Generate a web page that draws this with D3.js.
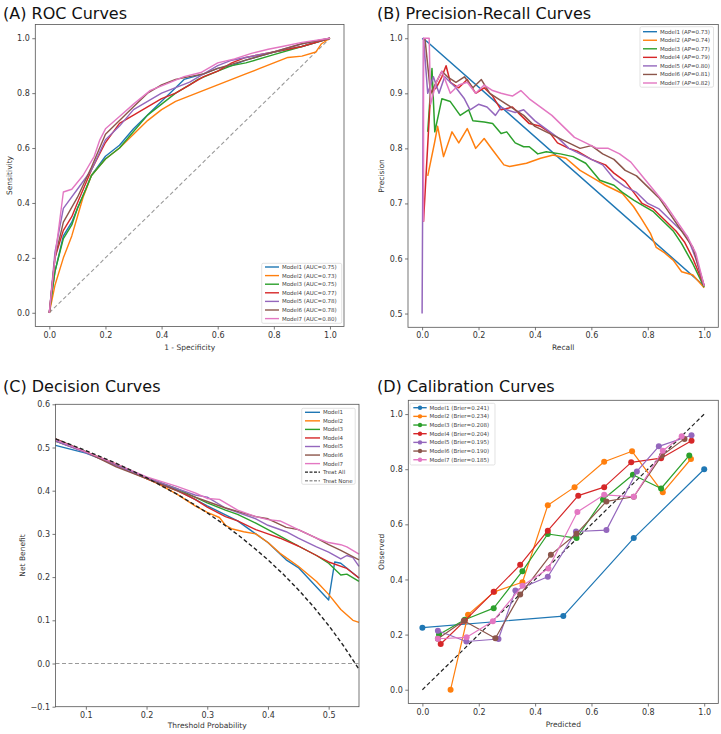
<!DOCTYPE html>
<html>
<head>
<meta charset="utf-8">
<script src="https://cdn.jsdelivr.net/npm/d3@7"></script>
<style>
body { margin: 0; background: #fff; }
text { font-family: "DejaVu Sans", sans-serif; }
</style>
</head>
<body>
<script>
const models = ["Model1", "Model2", "Model3", "Model4", "Model5", "Model6", "Model7"];
const colors = ["#1f77b4", "#ff7f0e", "#2ca02c", "#d62728", "#9467bd", "#8c564b", "#e377c2"];
const aucValues = ["0.75", "0.73", "0.75", "0.77", "0.78", "0.78", "0.80"];
const apValues = ["0.73", "0.74", "0.77", "0.79", "0.80", "0.81", "0.82"];
const brierValues = ["0.241", "0.234", "0.208", "0.204", "0.195", "0.190", "0.185"];

// ROC: [fpr, tpr]
const roc1 = [[0,0],[0.01,0.08],[0.02,0.15],[0.05,0.28],[0.08,0.33],[0.1,0.38],[0.13,0.45],[0.15,0.5],[0.2,0.57],[0.25,0.61],[0.3,0.67],[0.35,0.72],[0.4,0.77],[0.45,0.82],[0.48,0.85],[0.55,0.87],[0.6,0.89],[0.65,0.9],[0.7,0.92],[0.8,0.95],[0.9,0.97],[1,1]];
const roc2 = [[0,0],[0.02,0.1],[0.05,0.2],[0.08,0.28],[0.1,0.35],[0.12,0.42],[0.15,0.5],[0.2,0.56],[0.25,0.6],[0.3,0.65],[0.35,0.7],[0.4,0.74],[0.45,0.77],[0.5,0.79],[0.55,0.81],[0.6,0.83],[0.65,0.85],[0.7,0.87],[0.75,0.89],[0.8,0.91],[0.85,0.93],[0.9,0.935],[0.95,0.95],[0.97,0.98],[1,1]];
const roc3 = [[0,0],[0.02,0.15],[0.05,0.27],[0.08,0.32],[0.1,0.38],[0.13,0.45],[0.15,0.5],[0.2,0.56],[0.25,0.6],[0.3,0.66],[0.35,0.72],[0.4,0.76],[0.45,0.8],[0.5,0.83],[0.53,0.85],[0.6,0.88],[0.65,0.9],[0.7,0.91],[0.8,0.94],[0.9,0.97],[1,1]];
const roc4 = [[0,0],[0.02,0.2],[0.05,0.3],[0.08,0.35],[0.1,0.4],[0.15,0.52],[0.2,0.62],[0.25,0.69],[0.3,0.72],[0.35,0.75],[0.4,0.78],[0.45,0.8],[0.5,0.83],[0.55,0.86],[0.6,0.88],[0.65,0.91],[0.7,0.93],[0.8,0.95],[0.9,0.97],[1,1]];
const roc5 = [[0,0],[0.02,0.22],[0.05,0.38],[0.1,0.45],[0.15,0.52],[0.2,0.63],[0.25,0.68],[0.3,0.74],[0.35,0.77],[0.4,0.8],[0.45,0.82],[0.5,0.84],[0.55,0.87],[0.6,0.9],[0.65,0.92],[0.7,0.93],[0.8,0.95],[0.9,0.98],[1,1]];
const roc6 = [[0,0],[0.02,0.2],[0.05,0.33],[0.1,0.42],[0.15,0.53],[0.2,0.65],[0.25,0.7],[0.3,0.75],[0.35,0.8],[0.4,0.83],[0.45,0.85],[0.5,0.86],[0.55,0.87],[0.6,0.89],[0.7,0.92],[0.8,0.95],[0.9,0.98],[1,1]];
const roc7 = [[0,0],[0.02,0.2],[0.05,0.44],[0.08,0.45],[0.12,0.5],[0.16,0.57],[0.18,0.63],[0.2,0.67],[0.25,0.715],[0.3,0.76],[0.36,0.81],[0.42,0.835],[0.48,0.86],[0.54,0.875],[0.6,0.91],[0.66,0.925],[0.72,0.945],[0.78,0.96],[0.83,0.97],[0.9,0.985],[1,1]];
const rocCurves = [roc1, roc2, roc3, roc4, roc5, roc6, roc7];
const rocDiagonal = [[0,0],[1,1]];

// PR: [recall, precision]
const pr1 = [[0,1],[0.015,0.995],[1,0.55]];
const pr2 = [[0.02,0.75],[0.044,0.81],[0.055,0.84],[0.076,0.785],[0.106,0.83],[0.13,0.81],[0.16,0.836],[0.19,0.8],[0.22,0.818],[0.25,0.797],[0.29,0.77],[0.31,0.767],[0.37,0.773],[0.42,0.782],[0.465,0.788],[0.51,0.782],[0.56,0.76],[0.61,0.745],[0.65,0.733],[0.71,0.718],[0.75,0.694],[0.78,0.67],[0.81,0.645],[0.83,0.62],[0.86,0.61],[0.89,0.597],[0.92,0.576],[0.96,0.57],[1,0.547]];
const pr3 = [[0.02,0.83],[0.035,0.945],[0.045,0.83],[0.07,0.89],[0.1,0.885],[0.135,0.86],[0.165,0.87],[0.18,0.85],[0.22,0.848],[0.25,0.845],[0.28,0.827],[0.3,0.83],[0.33,0.81],[0.36,0.803],[0.38,0.803],[0.41,0.79],[0.44,0.794],[0.49,0.79],[0.535,0.785],[0.58,0.773],[0.63,0.742],[0.68,0.733],[0.71,0.72],[0.75,0.706],[0.78,0.697],[0.82,0.685],[0.85,0.67],[0.89,0.65],[0.92,0.627],[0.96,0.59],[1,0.548]];
const pr4 = [[0.005,0.667],[0.03,0.9],[0.05,0.91],[0.07,0.93],[0.085,0.95],[0.1,0.92],[0.13,0.91],[0.16,0.925],[0.19,0.9],[0.22,0.91],[0.25,0.895],[0.28,0.87],[0.32,0.875],[0.35,0.86],[0.38,0.845],[0.42,0.84],[0.45,0.83],[0.48,0.81],[0.52,0.8],[0.55,0.795],[0.6,0.78],[0.65,0.77],[0.68,0.755],[0.72,0.74],[0.75,0.72],[0.78,0.7],[0.82,0.69],[0.86,0.67],[0.9,0.65],[0.93,0.63],[0.96,0.6],[1,0.55]];
const pr5 = [[0,0.5],[0.005,1],[0.02,0.9],[0.04,0.93],[0.06,0.9],[0.08,0.93],[0.1,0.92],[0.12,0.91],[0.15,0.89],[0.17,0.87],[0.2,0.88],[0.23,0.875],[0.26,0.86],[0.28,0.875],[0.3,0.87],[0.33,0.865],[0.36,0.87],[0.4,0.85],[0.44,0.835],[0.48,0.82],[0.52,0.8],[0.56,0.79],[0.6,0.78],[0.64,0.77],[0.68,0.745],[0.72,0.73],[0.76,0.72],[0.8,0.7],[0.84,0.69],[0.88,0.67],[0.91,0.655],[0.94,0.64],[0.97,0.6],[1,0.55]];
const pr6 = [[0.01,1],[0.03,0.9],[0.05,0.92],[0.07,0.94],[0.09,0.93],[0.12,0.92],[0.15,0.93],[0.18,0.91],[0.21,0.925],[0.24,0.9],[0.27,0.89],[0.3,0.88],[0.33,0.87],[0.36,0.86],[0.4,0.84],[0.44,0.83],[0.48,0.82],[0.52,0.81],[0.56,0.8],[0.6,0.805],[0.64,0.79],[0.68,0.78],[0.72,0.76],[0.76,0.75],[0.8,0.73],[0.84,0.71],[0.88,0.68],[0.92,0.65],[0.96,0.62],[1,0.55]];
const pr7 = [[0.005,0.667],[0.005,1],[0.025,1],[0.03,0.88],[0.05,0.92],[0.07,0.94],[0.1,0.9],[0.13,0.915],[0.16,0.92],[0.19,0.9],[0.22,0.915],[0.25,0.905],[0.28,0.9],[0.32,0.895],[0.35,0.905],[0.38,0.89],[0.42,0.875],[0.46,0.86],[0.5,0.84],[0.54,0.82],[0.58,0.81],[0.62,0.8],[0.66,0.8],[0.7,0.79],[0.74,0.775],[0.78,0.75],[0.82,0.725],[0.86,0.7],[0.9,0.67],[0.94,0.64],[0.97,0.61],[1,0.55]];
const prCurves = [pr1, pr2, pr3, pr4, pr5, pr6, pr7];

// Decision curves: [threshold, net benefit]
const dca1 = [[0.05,0.505],[0.1,0.487],[0.15,0.46],[0.2,0.43],[0.25,0.402],[0.3,0.365],[0.35,0.33],[0.37,0.31],[0.4,0.28],[0.43,0.24],[0.45,0.222],[0.5,0.147],[0.51,0.235],[0.52,0.232],[0.55,0.198]];
const dca2 = [[0.05,0.515],[0.1,0.49],[0.15,0.462],[0.2,0.428],[0.22,0.415],[0.25,0.392],[0.28,0.365],[0.3,0.35],[0.32,0.338],[0.33,0.32],[0.34,0.312],[0.36,0.305],[0.38,0.3],[0.4,0.28],[0.42,0.255],[0.45,0.225],[0.48,0.19],[0.5,0.16],[0.52,0.125],[0.54,0.1],[0.55,0.095]];
const dca3 = [[0.05,0.515],[0.1,0.49],[0.15,0.46],[0.2,0.43],[0.25,0.405],[0.3,0.372],[0.33,0.355],[0.35,0.345],[0.38,0.325],[0.4,0.31],[0.42,0.295],[0.45,0.272],[0.48,0.25],[0.5,0.232],[0.52,0.205],[0.53,0.207],[0.55,0.19]];
const dca4 = [[0.05,0.52],[0.1,0.49],[0.15,0.458],[0.2,0.428],[0.25,0.4],[0.28,0.38],[0.3,0.362],[0.33,0.34],[0.35,0.33],[0.38,0.31],[0.4,0.3],[0.42,0.29],[0.45,0.272],[0.48,0.25],[0.5,0.235],[0.53,0.22],[0.55,0.198]];
const dca5 = [[0.05,0.515],[0.1,0.488],[0.15,0.458],[0.2,0.43],[0.25,0.405],[0.28,0.39],[0.3,0.385],[0.33,0.36],[0.35,0.35],[0.38,0.335],[0.4,0.32],[0.43,0.305],[0.45,0.29],[0.48,0.27],[0.5,0.258],[0.52,0.242],[0.53,0.25],[0.54,0.245],[0.55,0.225]];
const dca6 = [[0.05,0.52],[0.1,0.49],[0.15,0.455],[0.2,0.428],[0.25,0.4],[0.28,0.385],[0.3,0.375],[0.33,0.36],[0.35,0.352],[0.38,0.34],[0.4,0.335],[0.43,0.315],[0.45,0.31],[0.48,0.29],[0.5,0.275],[0.52,0.262],[0.55,0.24]];
const dca7 = [[0.05,0.518],[0.1,0.49],[0.15,0.462],[0.2,0.432],[0.25,0.41],[0.28,0.395],[0.3,0.382],[0.32,0.38],[0.35,0.355],[0.38,0.34],[0.4,0.333],[0.42,0.33],[0.45,0.31],[0.48,0.29],[0.5,0.28],[0.52,0.275],[0.53,0.27],[0.55,0.253]];
const dcaCurves = [dca1, dca2, dca3, dca4, dca5, dca6, dca7];
const treatAll = [[0.05,0.52],[0.1,0.493],[0.15,0.4635],[0.2,0.43],[0.25,0.392],[0.275,0.371],[0.3,0.3486],[0.325,0.3244],[0.35,0.2985],[0.375,0.27],[0.4,0.24],[0.425,0.207],[0.45,0.1709],[0.475,0.1314],[0.5,0.088],[0.525,0.04],[0.55,-0.0133]];
const treatNone = [[0.05,0],[0.55,0]];

// Calibration: [predicted, observed]
const cal1 = [[0,0.225],[0.5,0.267],[0.75,0.55],[1,0.8]];
const cal2 = [[0.1,0],[0.162,0.272],[0.255,0.355],[0.355,0.39],[0.445,0.669],[0.54,0.735],[0.645,0.827],[0.744,0.865],[0.853,0.716],[0.953,0.837]];
const cal3 = [[0.059,0.2],[0.15,0.254],[0.253,0.296],[0.355,0.43],[0.445,0.565],[0.547,0.55],[0.641,0.69],[0.747,0.78],[0.847,0.73],[0.947,0.85]];
const cal4 = [[0.065,0.166],[0.15,0.25],[0.253,0.355],[0.347,0.453],[0.445,0.577],[0.553,0.704],[0.645,0.735],[0.741,0.825],[0.847,0.84],[0.955,0.903]];
const cal5 = [[0.055,0.214],[0.156,0.175],[0.27,0.184],[0.33,0.36],[0.445,0.41],[0.545,0.574],[0.653,0.579],[0.761,0.792],[0.839,0.883],[0.955,0.923]];
const cal6 = [[0.055,0.185],[0.147,0.25],[0.259,0.187],[0.347,0.345],[0.456,0.49],[0.547,0.566],[0.653,0.683],[0.75,0.7],[0.85,0.85],[0.93,0.91]];
const cal7 = [[0.055,0.185],[0.157,0.19],[0.25,0.248],[0.355,0.377],[0.447,0.44],[0.55,0.645],[0.645,0.707],[0.75,0.7],[0.853,0.867],[0.92,0.92]];
const calCurves = [cal1, cal2, cal3, cal4, cal5, cal6, cal7];
const calDiagonal = [[0,0],[1,1]];

const ticks01 = [0, 0.2, 0.4, 0.6, 0.8, 1.0];
const ticksPrecision = [0.5, 0.6, 0.7, 0.8, 0.9, 1.0];
const ticksThreshold = [0.1, 0.2, 0.3, 0.4, 0.5];
const ticksNetBenefit = [-0.1, 0, 0.1, 0.2, 0.3, 0.4, 0.5, 0.6];

const W = 721, H = 734;
const svg = d3.select("body").append("svg").attr("width", W).attr("height", H);

function panel(o) {
	const x = d3.scaleLinear().domain(o.xd).range([o.left, o.right]);
	const y = d3.scaleLinear().domain(o.yd).range([o.bottom, o.top]);
	const g = svg.append("g");
	const fmt = d3.format(".1f");

	const gx = g.append("g")
		.attr("transform", `translate(0,${o.bottom})`)
		.call(d3.axisBottom(x).tickValues(o.xt).tickFormat(fmt).tickSize(3).tickPadding(2.5).tickSizeOuter(0));
	const gy = g.append("g")
		.attr("transform", `translate(${o.left},0)`)
		.call(d3.axisLeft(y).tickValues(o.yt).tickFormat(fmt).tickSize(3).tickPadding(2.5).tickSizeOuter(0));
	[gx, gy].forEach(a => {
		a.select(".domain").remove();
		a.selectAll("line").attr("stroke", "#555").attr("stroke-width", 0.8);
		a.selectAll("text").attr("fill", "#333").style("font-size", "8px").style("font-family", "DejaVu Sans");
	});

	// title + axis labels
	g.append("text").attr("x", o.titleX).attr("y", o.titleY)
		.style("font-size", "16px").attr("fill", "#111").text(o.title);
	g.append("text").attr("x", (o.left + o.right) / 2).attr("y", o.xlabY)
		.attr("text-anchor", "middle").style("font-size", "7.5px").attr("fill", "#333").text(o.xlab);
	g.append("text").attr("transform", `translate(${o.ylabX},${(o.top + o.bottom) / 2}) rotate(-90)`)
		.attr("text-anchor", "middle").style("font-size", "7.5px").attr("fill", "#333").text(o.ylab);

	const plot = g.append("g");
	g.append("rect").attr("x", o.left).attr("y", o.top)
		.attr("width", o.right - o.left).attr("height", o.bottom - o.top)
		.attr("fill", "none").attr("stroke", "#555").attr("stroke-width", 0.8);
	return { g, plot, x, y };
}

function drawLine(p, data, color, width, dash) {
	const line = d3.line().x(d => p.x(d[0])).y(d => p.y(d[1]));
	p.plot.append("path").datum(data)
		.attr("d", line)
		.attr("fill", "none")
		.attr("stroke", color)
		.attr("stroke-width", width)
		.attr("stroke-linejoin", "round")
		.attr("stroke-dasharray", dash || null);
}

function legend(p, o, items) {
	const lg = p.g.append("g");
	lg.append("rect").attr("x", o.x).attr("y", o.y).attr("width", o.w).attr("height", o.h)
		.attr("rx", 1.5).attr("fill", "#fff").attr("fill-opacity", 0.85)
		.attr("stroke", "#d5d5d5").attr("stroke-width", 0.7);
	items.forEach((it, i) => {
		const yy = o.row0 + i * o.step;
		lg.append("line").attr("x1", o.lx0).attr("x2", o.lx1).attr("y1", yy).attr("y2", yy)
			.attr("stroke", it.color).attr("stroke-width", 1.4)
			.attr("stroke-dasharray", it.dash || null);
		if (it.marker) {
			lg.append("circle").attr("cx", (o.lx0 + o.lx1) / 2).attr("cy", yy).attr("r", 2.2).attr("fill", it.color);
		}
		lg.append("text").attr("x", o.tx).attr("y", yy).attr("dy", "0.35em")
			.style("font-size", "5.5px").attr("fill", "#444").text(it.label);
	});
}

// (A) ROC
const pA = panel({
	left: 35.3, right: 344, top: 24.5, bottom: 326.5,
	xd: [-0.05, 1.05], yd: [-0.05, 1.05], xt: ticks01, yt: ticks01,
	title: "(A) ROC Curves", titleX: 3, titleY: 18.5,
	xlab: "1 - Specificity", xlabY: 350, ylab: "Sensitivity", ylabX: 12
});
drawLine(pA, rocDiagonal, "#999", 1.1, "4,2.5");
rocCurves.forEach((c, i) => drawLine(pA, c, colors[i], 1.4));
legend(pA, { x: 261.7, y: 263.3, w: 80, h: 60, row0: 267, step: 8.6, lx0: 265, lx1: 279, tx: 282 },
	models.map((m, i) => ({ color: colors[i], label: `${m} (AUC=${aucValues[i]})` })));

// (B) PR
const pB = panel({
	left: 408, right: 718.3, top: 24.5, bottom: 327.3,
	xd: [-0.05, 1.05], yd: [0.475, 1.025], xt: ticks01, yt: ticksPrecision,
	title: "(B) Precision-Recall Curves", titleX: 377, titleY: 18.5,
	xlab: "Recall", xlabY: 350, ylab: "Precision", ylabX: 384
});
prCurves.forEach((c, i) => drawLine(pB, c, colors[i], 1.5));
legend(pB, { x: 640, y: 26.7, w: 73.5, h: 60.5, row0: 31.7, step: 8.55, lx0: 643, lx1: 657, tx: 660 },
	models.map((m, i) => ({ color: colors[i], label: `${m} (AP=${apValues[i]})` })));

// (C) Decision curves
const pC = panel({
	left: 55.5, right: 359, top: 404.3, bottom: 706.7,
	xd: [0.05, 0.55], yd: [-0.1, 0.6], xt: ticksThreshold, yt: ticksNetBenefit,
	title: "(C) Decision Curves", titleX: 3, titleY: 391.5,
	xlab: "Threshold Probability", xlabY: 728, ylab: "Net Benefit", ylabX: 25
});
drawLine(pC, treatNone, "#999", 1.2, "4,2.5");
dcaCurves.forEach((c, i) => drawLine(pC, c, colors[i], 1.4));
drawLine(pC, treatAll, "#222", 1.4, "4,2.5");
legend(pC, { x: 301.7, y: 408.3, w: 53.5, h: 76, row0: 412.3, step: 8.55, lx0: 305, lx1: 320, tx: 323 },
	models.map((m, i) => ({ color: colors[i], label: m }))
		.concat([{ color: "#222", label: "Treat All", dash: "3,1.5" }, { color: "#999", label: "Treat None", dash: "3,1.5" }]));

// (D) Calibration
const pD = panel({
	left: 408.3, right: 718.3, top: 400.3, bottom: 703.5,
	xd: [-0.05, 1.05], yd: [-0.05, 1.05], xt: ticks01, yt: ticks01,
	title: "(D) Calibration Curves", titleX: 377, titleY: 392,
	xlab: "Predicted", xlabY: 727, ylab: "Observed", ylabX: 384
});
drawLine(pD, calDiagonal, "#222", 1.2, "4,2.5");
calCurves.forEach((c, i) => {
	drawLine(pD, c, colors[i], 1.2);
	pD.plot.selectAll(null).data(c).enter().append("circle")
		.attr("cx", d => pD.x(d[0])).attr("cy", d => pD.y(d[1]))
		.attr("r", 3).attr("fill", colors[i]);
});
legend(pD, { x: 410, y: 403.3, w: 85, h: 61.7, row0: 407.7, step: 8.67, lx0: 413.3, lx1: 426.7, tx: 429.5 },
	models.map((m, i) => ({ color: colors[i], label: `${m} (Brier=${brierValues[i]})`, marker: true })));
</script>
</body>
</html>
